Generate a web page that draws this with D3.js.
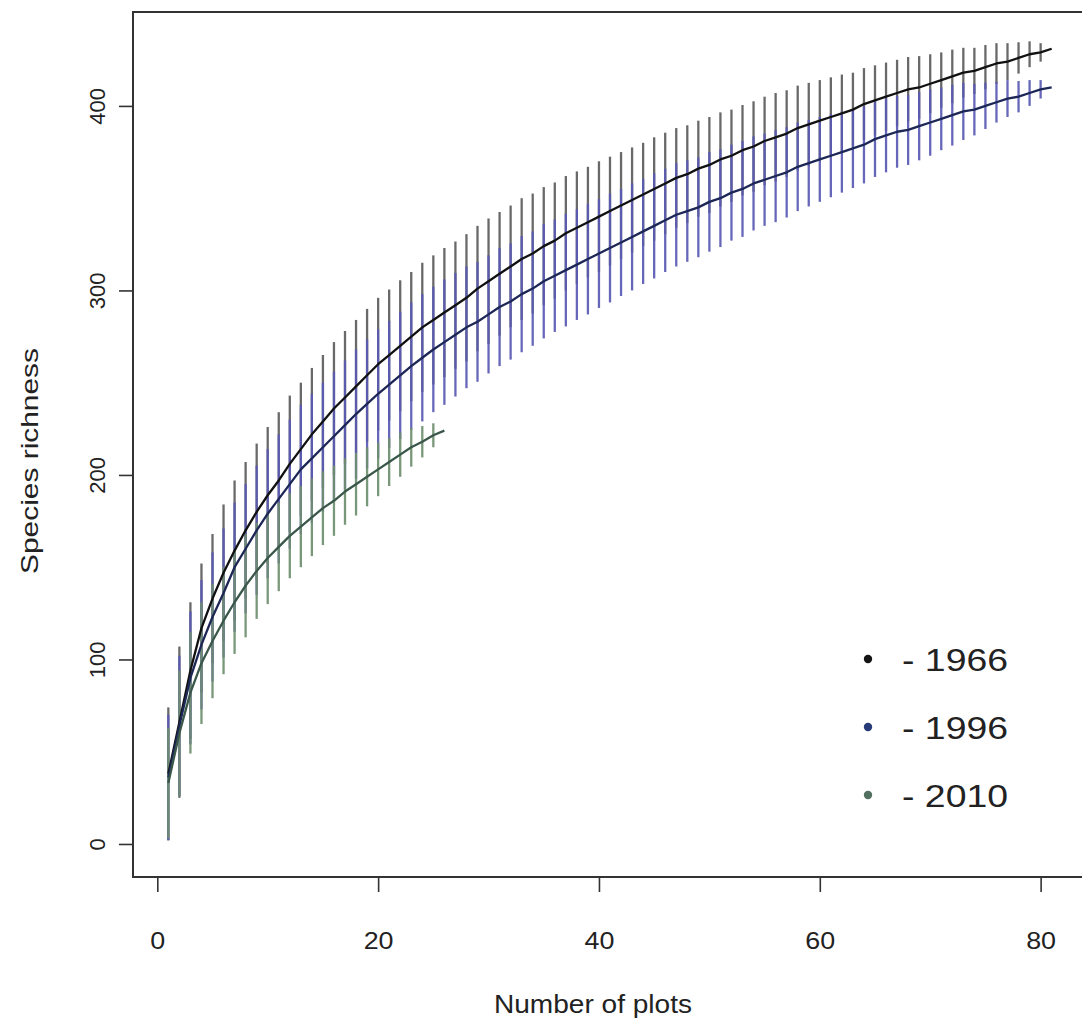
<!DOCTYPE html>
<html>
<head>
<meta charset="utf-8">
<script src="https://cdn.jsdelivr.net/npm/d3@7"></script>
<style>
  html, body { margin: 0; padding: 0; background: #fff; }
  svg { display: block; }
  text { font-family: "Liberation Sans", Arial, sans-serif; fill: #222; }
</style>
</head>
<body>
<svg id="chart" width="1082" height="1021"></svg>
<script>
// Species accumulation: mean richness and 2·SD half-width per number of plots
const years = ["1966", "1996", "2010"];

const mean1966 = [38, 66, 94, 117, 133, 147, 159, 170, 180, 189, 197, 206, 214, 222, 229, 236, 242, 248, 254, 260,
  265, 270, 275, 280, 284, 288, 292, 296, 301, 305, 309, 313, 317, 320, 324, 327, 331, 334, 337, 340,
  343, 346, 349, 352, 355, 358, 361, 363, 366, 368, 371, 373, 376, 378, 381, 383, 385, 388, 390, 392,
  394, 396, 398, 401, 403, 405, 407, 409, 410, 412, 414, 416, 418, 419, 421, 423, 424, 426, 428, 429, 431];
const half1966 = [36, 41, 37, 35, 35, 37, 38, 37, 37, 37, 37, 37, 36, 36, 36, 36, 36, 36, 36, 36,
  35.5, 35.5, 35, 35, 35, 35, 34.5, 34.5, 34, 34, 33.5, 33, 33, 32.5, 32, 31.5, 31, 30.5, 30, 30,
  29.5, 29, 28.5, 28, 28, 27.5, 27, 26.5, 26, 26, 25.5, 25, 24.5, 24.5, 24, 24, 23.5, 23, 22.5, 22,
  21.5, 21, 20, 19.5, 19, 18.5, 18, 17.5, 17, 16, 15, 14.5, 13.5, 12.5, 12, 11, 10, 8.5, 7, 5, 0];

const mean1996 = [36, 64, 90, 108, 123, 136, 150, 160, 170, 179, 187, 195, 203, 209, 215, 221, 227, 233, 238.5, 244,
  249, 254, 259, 263.5, 268, 272, 276, 280, 283, 287, 291, 294, 298, 301, 305, 308, 311, 314, 317, 320,
  323, 326, 329, 332, 335, 338, 341, 343, 345, 348, 350, 353, 355, 358, 360, 362, 364, 367, 369, 371,
  373, 375, 377, 379, 382, 384, 386, 387, 389, 391, 393, 395, 397, 398, 400, 402, 404, 405, 407, 409, 410];
const half1996 = [34, 38, 36, 35, 35, 35, 35, 35, 35, 35, 35, 35, 35, 35, 35, 35, 35, 35, 35, 35,
  34.5, 34.5, 34.5, 34.5, 34, 34, 33.5, 33, 32.5, 32, 32, 31.5, 31.5, 31, 31, 30.5, 30.5, 30, 30, 29.5,
  29.5, 29, 29, 28.5, 28.5, 28, 28, 27.5, 27, 27, 26.5, 26, 26, 25.5, 25, 25, 24.5, 24, 23.5, 23,
  22.5, 22, 21.5, 21, 20.5, 20, 19.5, 19, 18.5, 18, 17, 16.5, 15.5, 14, 12.5, 11, 10, 8.5, 7, 5, 0];

const mean2010 = [33, 60, 82, 98, 110, 121, 131, 140, 148, 155, 161, 167, 172, 177, 182, 186, 191, 195, 199, 203,
  207, 211, 215, 218, 221.5, 224];
const half2010 = [30, 34, 33, 33, 31, 29, 28, 28, 26, 25, 24, 23, 22, 21, 20, 19, 18, 17, 16, 14.5,
  13, 12, 10.5, 8.5, 6.5, 0];

const xTicks = [0, 20, 40, 60, 80];
const yTicks = [0, 100, 200, 300, 400];

const series = [
  { year: years[0], mean: mean1966, half: half1966, bar: "#5c5c5c", line: "#111111", dot: "#141414" },
  { year: years[1], mean: mean1996, half: half1996, bar: "#5a5ab4", line: "#1d2756", dot: "#263b78" },
  { year: years[2], mean: mean2010, half: half2010, bar: "#6e8e6e", line: "#3a574a", dot: "#52705f" }
];

const svg = d3.select("#chart");
const FONT = "'Liberation Sans', Arial, sans-serif";

// Plot region (box padded 4% beyond the data range)
const box = { left: 133, right: 1087, top: 12, bottom: 877 };
const x = d3.scaleLinear().domain([-2.2, 84.2]).range([box.left, box.right]);
const y = d3.scaleLinear().domain([-17.9, 450.9]).range([box.bottom, box.top]);

const plot = svg.append("g");

// error bars
series.forEach(s => {
  plot.append("g").selectAll("line")
    .data(s.mean.map((m, i) => ({ n: i + 1, m, h: s.half[i] })).filter(d => d.h > 0))
    .join("line")
    .attr("x1", d => x(d.n)).attr("x2", d => x(d.n))
    .attr("y1", d => y(d.m - d.h)).attr("y2", d => y(d.m + d.h))
    .attr("stroke", s.bar)
    .attr("stroke-width", 2.3)
    .attr("stroke-opacity", 0.92);
});

// mean accumulation curves
const line = d3.line().x(d => x(d.n)).y(d => y(d.m)).curve(d3.curveLinear);
series.forEach(s => {
  plot.append("path")
    .datum(s.mean.map((m, i) => ({ n: i + 1, m })))
    .attr("d", line)
    .attr("fill", "none")
    .attr("stroke", s.line)
    .attr("stroke-width", 2.3)
    .attr("stroke-linejoin", "round");
});

// box
svg.append("rect")
  .attr("x", box.left).attr("y", box.top)
  .attr("width", box.right - box.left).attr("height", box.bottom - box.top)
  .attr("fill", "none").attr("stroke", "#333").attr("stroke-width", 2);

// x axis
const xAxis = d3.axisBottom(x).tickValues(xTicks).tickSize(15).tickPadding(0).tickFormat(d3.format("d"));
const gx = svg.append("g").attr("transform", `translate(0,${box.bottom})`).call(xAxis);
gx.select(".domain").remove();
gx.selectAll(".tick line").attr("stroke", "#333").attr("stroke-width", 1.6);
gx.selectAll(".tick text")
  .attr("font-size", 24).attr("fill", "#222").attr("font-family", FONT)
  .attr("y", 0).attr("dy", "0")
  .attr("transform", "translate(0,72) scale(1.12,1)");

// y axis (rotated labels)
const yAxis = d3.axisLeft(y).tickValues(yTicks).tickSize(14).tickFormat(d3.format("d"));
const gy = svg.append("g").attr("transform", `translate(${box.left},0)`).call(yAxis);
gy.select(".domain").remove();
gy.selectAll(".tick line").attr("stroke", "#333").attr("stroke-width", 1.6);
gy.selectAll(".tick text")
  .attr("font-size", 22).attr("fill", "#222").attr("font-family", FONT)
  .attr("x", 0).attr("dy", "0")
  .attr("text-anchor", "middle")
  .attr("transform", "translate(-28,0) rotate(-90)");

// axis titles
svg.append("text")
  .attr("x", 593).attr("y", 1013)
  .attr("text-anchor", "middle").attr("font-size", 25)
  .attr("textLength", 198).attr("lengthAdjust", "spacingAndGlyphs")
  .text("Number of plots");
svg.append("text")
  .attr("transform", `translate(38,461) rotate(-90)`)
  .attr("text-anchor", "middle").attr("font-size", 24)
  .attr("textLength", 226).attr("lengthAdjust", "spacingAndGlyphs")
  .text("Species richness");

// legend
const legend = svg.append("g");
series.forEach((s, i) => {
  const cy = 659 + i * 68;
  legend.append("circle").attr("cx", 868).attr("cy", cy).attr("r", 4.2).attr("fill", s.dot);
  legend.append("text").attr("x", 902).attr("y", cy + 12)
    .attr("font-size", 32).attr("fill", "#222")
    .attr("textLength", 106).attr("lengthAdjust", "spacingAndGlyphs")
    .text("- " + s.year);
});
</script>
</body>
</html>
